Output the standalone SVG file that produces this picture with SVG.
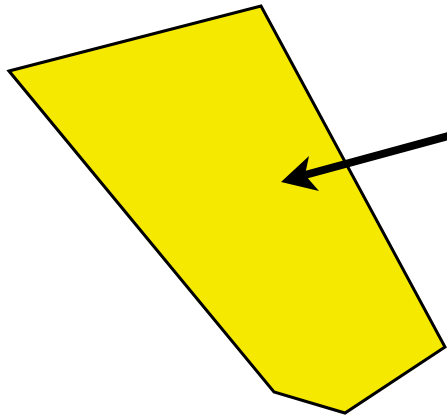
<svg xmlns="http://www.w3.org/2000/svg" width="447" height="419" viewBox="0 0 447 419">
<style>
.shape{fill:#f5e900;stroke:#000;stroke-width:3;stroke-linejoin:miter}
.conn{stroke:#000;stroke-width:8;fill:none}
.head{fill:#000;stroke:none}
</style>
<rect width="447" height="419" fill="#fff"/>
<g id="node1">
<polygon class="shape" points="9,71 261,6 445,347 345,413 274,392"/>
</g>
<g id="connectors">
<line class="conn" x1="452" y1="135" x2="305" y2="175"/>
<polygon class="head" points="281,182 309,156 305,175 319,191"/>
</g>
</svg>
